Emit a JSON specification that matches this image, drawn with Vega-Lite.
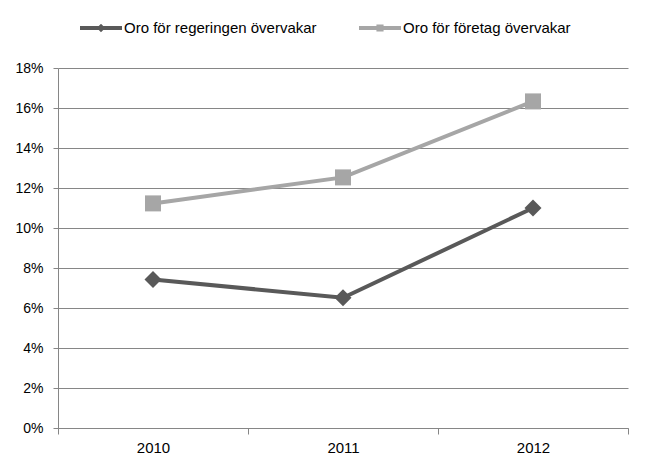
{
  "$schema": "https://vega.github.io/schema/vega-lite/v6.json",
  "width": 570,
  "height": 360,
  "autosize": {"type": "none"},
  "padding": {"left": 58, "top": 68, "right": 24, "bottom": 46},
  "background": "white",
  "config": {
    "view": {"stroke": null},
    "font": "Liberation Sans",
    "axis": {"labelFont": "Liberation Sans", "labelFontSize": 14, "labelColor": "#000000", "domainColor": "#868686", "tickColor": "#868686", "gridColor": "#868686", "domainWidth": 1, "tickWidth": 1, "gridWidth": 1}
  },
  "data": {
    "values": [
      {"year": "2010", "series": "Oro för regeringen övervakar", "value": 0.0743},
      {"year": "2011", "series": "Oro för regeringen övervakar", "value": 0.0651},
      {"year": "2012", "series": "Oro för regeringen övervakar", "value": 0.1100},
      {"year": "2010", "series": "Oro för företag övervakar", "value": 0.1123},
      {"year": "2011", "series": "Oro för företag övervakar", "value": 0.1253},
      {"year": "2012", "series": "Oro för företag övervakar", "value": 0.1633}
    ]
  },
  "encoding": {
    "x": {
      "field": "year", "type": "ordinal",
      "scale": {"paddingInner": 0, "paddingOuter": 0},
      "axis": {"title": null, "labelAngle": 0, "labelFontSize": 15, "tickBand": "extent", "tickSize": 6, "labelPadding": 6, "grid": false}
    },
    "y": {
      "field": "value", "type": "quantitative",
      "scale": {"domain": [0, 0.18], "nice": false},
      "axis": {"title": null, "format": ".0%", "values": [0, 0.02, 0.04, 0.06, 0.08, 0.1, 0.12, 0.14, 0.16, 0.18], "tickSize": 5, "labelPadding": 10, "grid": true}
    }
  },
  "layer": [
    {
      "transform": [{"filter": "datum.series === 'Oro för regeringen övervakar'"}],
      "mark": {"type": "line", "strokeWidth": 4, "color": "#595959"}
    },
    {
      "transform": [{"filter": "datum.series === 'Oro för företag övervakar'"}],
      "mark": {"type": "line", "strokeWidth": 4, "color": "#A6A6A6"}
    },
    {
      "transform": [{"filter": "datum.series === 'Oro för regeringen övervakar'"}],
      "mark": {"type": "point", "shape": "diamond", "filled": true, "size": 290, "opacity": 1, "color": "#595959"}
    },
    {
      "transform": [{"filter": "datum.series === 'Oro för företag övervakar'"}],
      "mark": {"type": "point", "shape": "square", "filled": true, "size": 256, "opacity": 1, "color": "#A6A6A6"}
    },
    {
      "mark": {"type": "point", "filled": true, "opacity": 0},
      "encoding": {
        "color": {
          "field": "series", "type": "nominal",
          "scale": {"domain": ["Oro för regeringen övervakar", "Oro för företag övervakar"], "range": ["#595959", "#A6A6A6"]},
          "legend": {
            "title": null, "orient": "none", "direction": "horizontal",
            "legendX": 22, "legendY": -61,
            "symbolSize": 1764, "symbolOpacity": 1, "symbolStrokeWidth": 0,
            "labelFont": "Liberation Sans", "labelFontSize": 15, "labelColor": "#000000", "labelLimit": 0,
            "labelOffset": 2, "columnPadding": 42
          }
        },
        "shape": {
          "field": "series", "type": "nominal",
          "scale": {"domain": ["Oro för regeringen övervakar", "Oro för företag övervakar"], "range": ["M-1,-0.095L1,-0.095L1,0.095L-1,0.095Z M-0.2,0L0,-0.2L0.2,0L0,0.2Z", "M-1,-0.095L1,-0.095L1,0.095L-1,0.095Z M-0.17,-0.17L0.17,-0.17L0.17,0.17L-0.17,0.17Z"]},
          "legend": {
            "title": null, "orient": "none", "direction": "horizontal",
            "legendX": 22, "legendY": -61,
            "symbolSize": 1764, "symbolOpacity": 1, "symbolStrokeWidth": 0,
            "labelFont": "Liberation Sans", "labelFontSize": 15, "labelColor": "#000000", "labelLimit": 0,
            "labelOffset": 2, "columnPadding": 42
          }
        }
      }
    }
  ]
}
